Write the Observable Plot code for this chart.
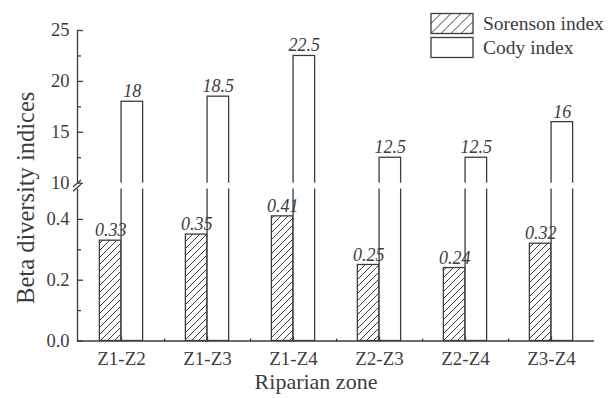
<!DOCTYPE html>
<html><head><meta charset="utf-8">
<script src="https://cdn.jsdelivr.net/npm/d3@7"></script>
<script src="https://cdn.jsdelivr.net/npm/@observablehq/plot@0.6"></script>
<style>
body{margin:0;background:#fff;}
#wrap{position:relative;width:611px;height:398px;font-family:"Liberation Serif","Times New Roman",serif;}
#legend{position:absolute;left:0;top:0;pointer-events:none;}
</style></head><body><div id="wrap"></div>
<script>
const zones = ["Z1-Z2","Z1-Z3","Z1-Z4","Z2-Z3","Z2-Z4","Z3-Z4"];
const sorenson = [0.33,0.35,0.41,0.25,0.24,0.32];
const cody = [18,18.5,22.5,12.5,12.5,16];
const yTicksMajor = [0,0.2,0.4,10,15,20,25];
const yTicksMinor = [0.1,0.3,12.5,17.5,22.5];
const seriesNames = ["Sorenson index","Cody index"];
const xTitle = "Riparian zone";
const yTitle = "Beta diversity indices";

const sData = zones.map((z,i)=>({zone:z, value:sorenson[i]}));
const cData = zones.map((z,i)=>({zone:z, value:cody[i]}));

const ink = "#3c3c3c";
const font = '"Liberation Serif","Times New Roman",serif';
const half = 517/6/2;
const barW = 21.7;
const fmtY = d => d < 1 ? d.toFixed(1) : String(d);

const plot = Plot.plot({
  width:611, height:398, marginLeft:77, marginRight:17, marginTop:30, marginBottom:57.5,
  style:{fontFamily:font, color:ink, background:"white", overflow:"visible"},
  x:{type:"band", domain:zones, padding:0, axis:null},
  y:{type:"linear", domain:[0,0.5,10,25], range:[340.5,188.5,182.7,30], axis:null},
  marks:[
    Plot.barY(sData, {x:"zone", y:"value", fill:"url(#hatch)", stroke:ink, strokeWidth:1.3, insetLeft:half-barW, insetRight:half}),
    Plot.barY(cData, {x:"zone", y:"value", fill:"white", stroke:ink, strokeWidth:1.3, insetLeft:half, insetRight:half-barW}),
    Plot.frame({anchor:"left", stroke:ink, strokeWidth:1.3}),
    Plot.barY(zones, {x:d=>d, y1:0.5, y2:10, fill:"white", insetLeft:-3}),
    Plot.ruleY([0], {stroke:ink, strokeWidth:1.3}),
    Plot.axisY(yTicksMajor, {anchor:"left", tickSize:0, tickPadding:8, tickFormat:fmtY, fontSize:18.5, fill:ink, label:null}),
    Plot.axisY(yTicksMajor, {anchor:"right", frameAnchor:"left", tickSize:5, fill:"none", stroke:ink, strokeWidth:1.3, label:null}),
    Plot.axisY(yTicksMinor, {anchor:"right", frameAnchor:"left", tickSize:3, fill:"none", stroke:ink, strokeWidth:1.3, label:null}),
    Plot.axisX(zones, {anchor:"bottom", tickSize:0, tickPadding:10, fontSize:19, fill:ink, label:null}),
    Plot.axisX(zones, {anchor:"top", frameAnchor:"bottom", tickSize:5, fill:"none", stroke:ink, strokeWidth:1.3, label:null}),
    Plot.axisX(zones.slice(0,5), {anchor:"top", frameAnchor:"bottom", tickSize:3, dx:half, fill:"none", stroke:ink, strokeWidth:1.3, label:null}),
    Plot.text(sData, {x:"zone", y:"value", text:d=>d.value.toFixed(2), dx:-barW/2, dy:-4.5, lineAnchor:"bottom", fontStyle:"italic", fontSize:18, fill:ink}),
    Plot.text(cData, {x:"zone", y:"value", text:d=>String(d.value), dx:barW/2, dy:-4.5, lineAnchor:"bottom", fontStyle:"italic", fontSize:18, fill:ink}),
    Plot.text([yTitle], {frameAnchor:"left", textAnchor:"middle", rotate:-90, dx:-51, dy:12, fontSize:24.5, fill:ink}),
    Plot.text([xTitle], {frameAnchor:"bottom", dx:-20, dy:48, fontSize:22, fill:ink})
  ]
});

const wrap = document.getElementById("wrap");
wrap.appendChild(plot);

// break marks on the y axis, placed with the plot's own y scale
const ys = plot.scale("y");
const yMid = (ys.apply(0.5) + ys.apply(10)) / 2;
const x0 = 77;
const svg = d3.select(plot);
[-2.2, 2.2].forEach(o => {
  svg.append("line")
    .attr("x1", x0 - 4).attr("y1", yMid + o + 3.5)
    .attr("x2", x0 + 4).attr("y2", yMid + o - 3.5)
    .attr("stroke", ink).attr("stroke-width", 1.3);
});

// legend (with pattern definitions)
const lg = d3.select(wrap).append("svg").attr("id","legend").attr("width",611).attr("height",80);
const defs = lg.append("defs");
function pat(id, s){
  const p = defs.append("pattern").attr("id", id).attr("patternUnits","userSpaceOnUse").attr("width", s).attr("height", s);
  p.append("rect").attr("width", s).attr("height", s).attr("fill","white");
  p.append("path").attr("d", `M0,${s} L${s},0 M-1,1 L1,-1 M${s-1},${s+1} L${s+1},${s-1}`).attr("stroke", ink).attr("stroke-width", 1);
}
pat("hatch", 7);
pat("hatchL", 10);
const items = [{name:seriesNames[0], fill:"url(#hatchL)"},{name:seriesNames[1], fill:"white"}];
items.forEach((it, i) => {
  const g = lg.append("g").attr("transform", `translate(431,${13.5 + i*24})`);
  g.append("rect").attr("width", 42).attr("height", 20).attr("fill", it.fill).attr("stroke", ink).attr("stroke-width", 1.3);
  g.append("text").attr("x", 52).attr("y", 16.5).attr("font-family", font).attr("font-size", 19.5).attr("fill", ink).text(it.name);
});
</script>
</body></html>
